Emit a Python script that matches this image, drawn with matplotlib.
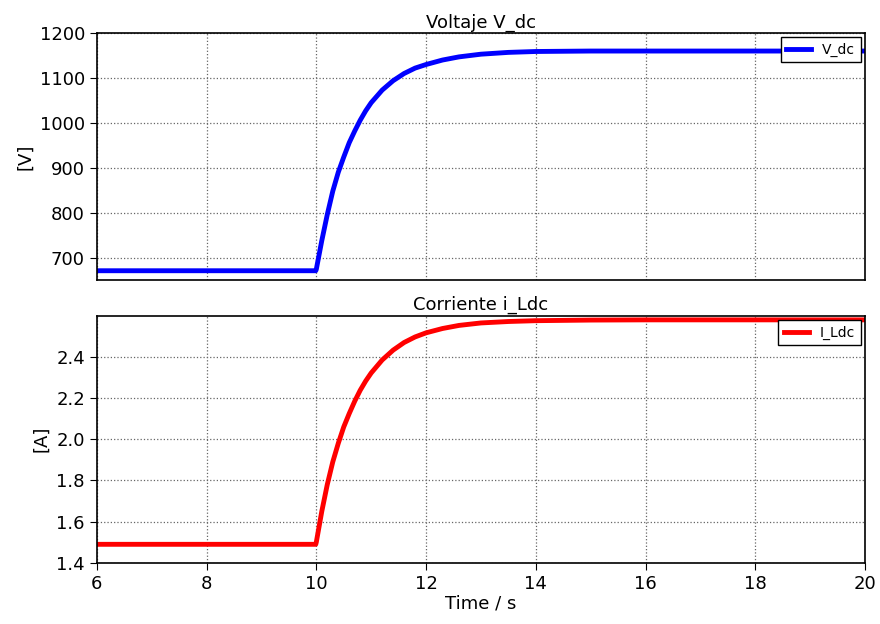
import matplotlib.pyplot as plt

# values
t = [6.0, 9.99, 10.0, 10.1, 10.2, 10.3, 10.4, 10.5, 10.6, 10.7, 10.8, 10.9, 11.0,
     11.2, 11.4, 11.6, 11.8, 12.0, 12.3, 12.6, 13.0, 13.5, 14.0, 15.0, 16.0, 18.0, 20.0]
v_dc = [671, 671, 674, 738, 796, 848, 890, 924, 956, 982, 1006, 1027, 1045,
        1073, 1094, 1110, 1122, 1130, 1140, 1147, 1153, 1157, 1159, 1160, 1160, 1160, 1160]
i_ldc = [1.49, 1.49, 1.50, 1.65, 1.78, 1.89, 1.98, 2.06, 2.125, 2.185, 2.238, 2.283, 2.322,
         2.385, 2.433, 2.470, 2.497, 2.517, 2.538, 2.553, 2.565, 2.572, 2.576, 2.579, 2.58, 2.58, 2.58]

plt.rcParams['font.family'] = ['DejaVu Sans']
fig = plt.figure(figsize=(8.8, 6.24), dpi=100)
ax1 = fig.add_axes([0.110, 0.551, 0.873, 0.396])
ax2 = fig.add_axes([0.110, 0.098, 0.873, 0.396])

ax1.plot(t, v_dc, color="#0000ff", lw=3.5, label="V_dc")
ax1.set_xlim(6, 20)
ax1.set_ylim(650, 1200)
ax1.set_yticks([700, 800, 900, 1000, 1100, 1200])
ax1.set_xticks([6, 8, 10, 12, 14, 16, 18, 20])
ax1.set_title("Voltaje V_dc", fontsize=13, pad=4)
ax1.set_ylabel("[V]", fontsize=13)

ax2.plot(t, i_ldc, color="#ff0000", lw=3.5, label="I_Ldc")
ax2.set_xlim(6, 20)
ax2.set_ylim(1.4, 2.6)
ax2.set_yticks([1.4, 1.6, 1.8, 2.0, 2.2, 2.4])
ax2.set_xticks([6, 8, 10, 12, 14, 16, 18, 20])
ax2.set_title("Corriente i_Ldc", fontsize=13, pad=4)
ax2.set_ylabel("[A]", fontsize=13)
ax2.set_xlabel("Time / s", fontsize=13, labelpad=1)

for ax in (ax1, ax2):
    ax.grid(True, color="#666666", linestyle=":", lw=0.9)
    ax.tick_params(labelsize=13, direction="out", length=5, color="black")
    for s in ax.spines.values():
        s.set_linewidth(1.2)
    leg = ax.legend(loc="upper right", fontsize=10, fancybox=False, framealpha=1,
                    edgecolor="black", handlelength=1.8, borderaxespad=0.3)
    leg.get_frame().set_linewidth(1.0)

ax1.tick_params(axis="x", bottom=False, labelbottom=False)

plt.savefig("out.png")
